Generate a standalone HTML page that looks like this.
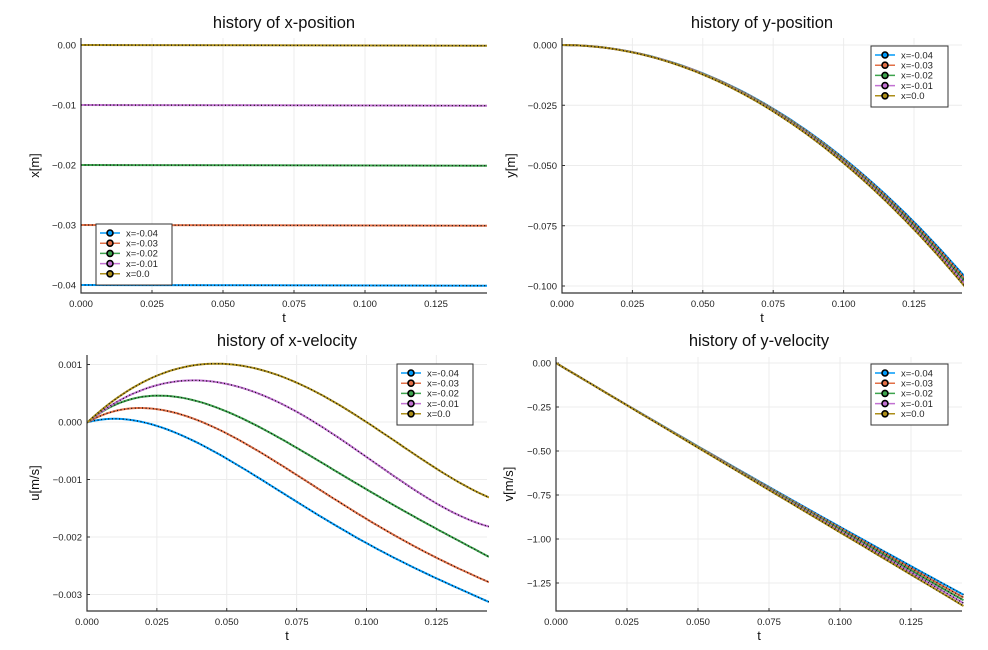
<!DOCTYPE html>
<html><head><meta charset="utf-8"><style>
html,body{margin:0;padding:0;background:#fff;}
svg{display:block;font-family:"Liberation Sans","DejaVu Sans",sans-serif;}
</style></head><body>
<svg id="s" width="988" height="650" viewBox="0 0 988 650" xmlns="http://www.w3.org/2000/svg"></svg>
<script>
const S=document.getElementById('s');
let out='';
const cols=['#009af9','#e26f46','#3da44d','#c271d2','#ac8e18'];
const names=['x=-0.04','x=-0.03','x=-0.02','x=-0.01','x=0.0'];
function pathOf(pts){return 'M'+pts.map(p=>p[0].toFixed(1)+','+p[1].toFixed(1)).join(' L');}
function series(d,c){out+=`<path d="${d}" fill="none" stroke="${c}" stroke-width="2"/>`;
 out+=`<path d="${d}" fill="none" stroke="#111" stroke-width="1.3" stroke-dasharray="1 2.6"/>`;}
function polyfit(xs,ys,deg){const n=deg+1;const A=[...Array(n)].map(()=>Array(n+1).fill(0));
 for(let k=0;k<xs.length;k++){const w=k==0?50:1;const p=[];for(let i=0;i<n;i++)p.push(Math.pow(xs[k],i));
  for(let i=0;i<n;i++){for(let j=0;j<n;j++)A[i][j]+=w*p[i]*p[j];A[i][n]+=w*p[i]*ys[k];}}
 for(let i=0;i<n;i++){let m=i;for(let r=i+1;r<n;r++)if(Math.abs(A[r][i])>Math.abs(A[m][i]))m=r;[A[i],A[m]]=[A[m],A[i]];
  for(let r=0;r<n;r++)if(r!=i){const f=A[r][i]/A[i][i];for(let c=i;c<=n;c++)A[r][c]-=f*A[i][c];}}
 return A.map((r,i)=>r[n]/r[i]);}
function panel(o){
 const {x0,x1,y0,y1}=o;
 o.xt.forEach(([v,l])=>{const x=o.X(v);out+=`<line x1="${x}" y1="${y0}" x2="${x}" y2="${y1}" stroke="#ececec" stroke-width="1"/>`;
  out+=`<text x="${x}" y="${y1+14}" font-size="9.5" text-anchor="middle" fill="#222">${l}</text>`;
  out+=`<line x1="${x}" y1="${y1}" x2="${x}" y2="${y1-3}" stroke="#333"/>`;});
 o.yt.forEach(([v,l])=>{const y=o.Y(v);out+=`<line x1="${x0}" y1="${y}" x2="${x1}" y2="${y}" stroke="#ececec" stroke-width="1"/>`;
  out+=`<text x="${x0-5}" y="${y+3.5}" font-size="9.5" text-anchor="end" fill="#222">${l}</text>`;
  out+=`<line x1="${x0}" y1="${y}" x2="${x0+3}" y2="${y}" stroke="#333"/>`;});
 out+=`<text x="${o.tx}" y="${o.ty}" font-size="16.5" text-anchor="middle" fill="#111">${o.title}</text>`;
 out+=`<text x="${(x0+x1)/2}" y="${y1+29}" font-size="13" text-anchor="middle" fill="#111">t</text>`;
 out+=`<text transform="translate(${o.ylx},${(y0+y1)/2}) rotate(-90)" font-size="13" text-anchor="middle" fill="#111">${o.yl}</text>`;
 out+=`<svg x="${x0}" y="${y0-5}" width="${x1-x0+2}" height="${y1-y0+10}" overflow="hidden"><g transform="translate(${-x0},${-(y0-5)})">`;
 o.draw();
 out+=`</g></svg>`;
 out+=`<path d="M${x0},${y0} L${x0},${y1} L${x1},${y1}" fill="none" stroke="#333" stroke-width="1.2"/>`;
 const [lx,ly,lw,lh]=o.leg;
 out+=`<rect x="${lx}" y="${ly}" width="${lw}" height="${lh}" fill="#fff" stroke="#333" stroke-width="1"/>`;
 for(let i=0;i<5;i++){const yy=ly+9+i*10.2;
  out+=`<line x1="${lx+4}" y1="${yy}" x2="${lx+24}" y2="${yy}" stroke="${cols[i]}" stroke-width="1.5"/>`;
  out+=`<circle cx="${lx+14}" cy="${yy}" r="3" fill="${cols[i]}" stroke="#000" stroke-width="1.6"/>`;
  out+=`<text x="${lx+30}" y="${yy+3.3}" font-size="9.5" fill="#222">${names[i]}</text>`;}
}
const tt=[[0,'0.000'],[0.025,'0.025'],[0.05,'0.050'],[0.075,'0.075'],[0.1,'0.100'],[0.125,'0.125']];
// TL
{const X=t=>81+t*2840,Y=v=>45-v*6000;
panel({x0:81,x1:487,y0:38,y1:293,X,Y,xt:tt,yt:[[0,'0.00'],[-0.01,'\u22120.01'],[-0.02,'\u22120.02'],[-0.03,'\u22120.03'],[-0.04,'\u22120.04']],
 title:'history of x-position',tx:284,ty:28,yl:'x[m]',ylx:39,leg:[96,224,76,61],
 draw(){for(let k=0;k<5;k++){const v=-0.04+0.01*k;series(`M81,${Y(v)} L487,${Y(v)+0.7}`,cols[k]);}}});}
// TR
{const X=t=>562+t*2816,Y=v=>45-v*2410;
panel({x0:562,x1:962,y0:38,y1:293,X,Y,xt:tt,yt:[[0,'0.000'],[-0.025,'\u22120.025'],[-0.05,'\u22120.050'],[-0.075,'\u22120.075'],[-0.1,'\u22120.100']],
 title:'history of y-position',tx:762,ty:28,yl:'y[m]',ylx:515,leg:[871,46,77,61],
 draw(){for(let k=0;k<5;k++){const a=9.4+0.1*k;let p=[];for(let i=0;i<=60;i++){const t=0.1435*i/60;p.push([X(t),Y(-0.5*a*t*t)]);}series(pathOf(p),cols[k]);}}});}
// BL
{const X=t=>87+t*2795,Y=v=>422-v*57500;
const data=[
[[262,292],[370,280],[470,305],[680,400],[890,530],[1100,655],[1310,760],[1460,828]],
[[262,292],[340,262],[440,250],[560,268],[680,330],[890,450],[1100,580],[1310,700],[1460,768]],
[[262,292],[350,248],[440,216],[530,211],[680,250],[890,380],[1100,490],[1310,610],[1460,693]],
[[262,292],[340,245],[440,190],[600,163],[760,195],[890,265],[1100,400],[1310,530],[1460,605]],
[[262,292],[350,225],[470,150],[680,115],[890,175],[1100,292],[1310,430],[1460,515]]];
panel({x0:87,x1:487,y0:355,y1:611,X,Y,xt:tt,yt:[[0.001,'0.001'],[0,'0.000'],[-0.001,'\u22120.001'],[-0.002,'\u22120.002'],[-0.003,'\u22120.003']],
 title:'history of x-velocity',tx:287,ty:346,yl:'u[m/s]',ylx:39,leg:[397,364,76,61],
 draw(){for(let k=0;k<5;k++){const pts=data[k].map(([a,b])=>[a/3,325+b/3]);
  const xs=pts.map(p=>(p[0]-87)/400),ys=pts.map(p=>p[1]);const c=polyfit(xs,ys,4);
  let p=[];for(let i=0;i<=80;i++){const s=i/80*1.005;let y=0;for(let j=c.length-1;j>=0;j--)y=y*s+c[j];p.push([87+s*400,y]);}
  series(pathOf(p),cols[k]);}}});}
// BR
{const X=t=>556+t*2840,Y=v=>363-v*176;
panel({x0:556,x1:962,y0:357,y1:611,X,Y,xt:tt,yt:[[0,'0.00'],[-0.25,'\u22120.25'],[-0.5,'\u22120.50'],[-0.75,'\u22120.75'],[-1,'\u22121.00'],[-1.25,'\u22121.25']],
 title:'history of y-velocity',tx:759,ty:346,yl:'v[m/s]',ylx:513,leg:[871,364,77,61],
 draw(){for(let k=0;k<5;k++){const c=3.1*(4-k)/4;let p=[];for(let i=0;i<=40;i++){const t=0.1435*i/40;p.push([X(t),Y(-9.62*t+c*t*t)]);}series(pathOf(p),cols[k]);}}});}
S.innerHTML=out;
</script>
</body></html>
